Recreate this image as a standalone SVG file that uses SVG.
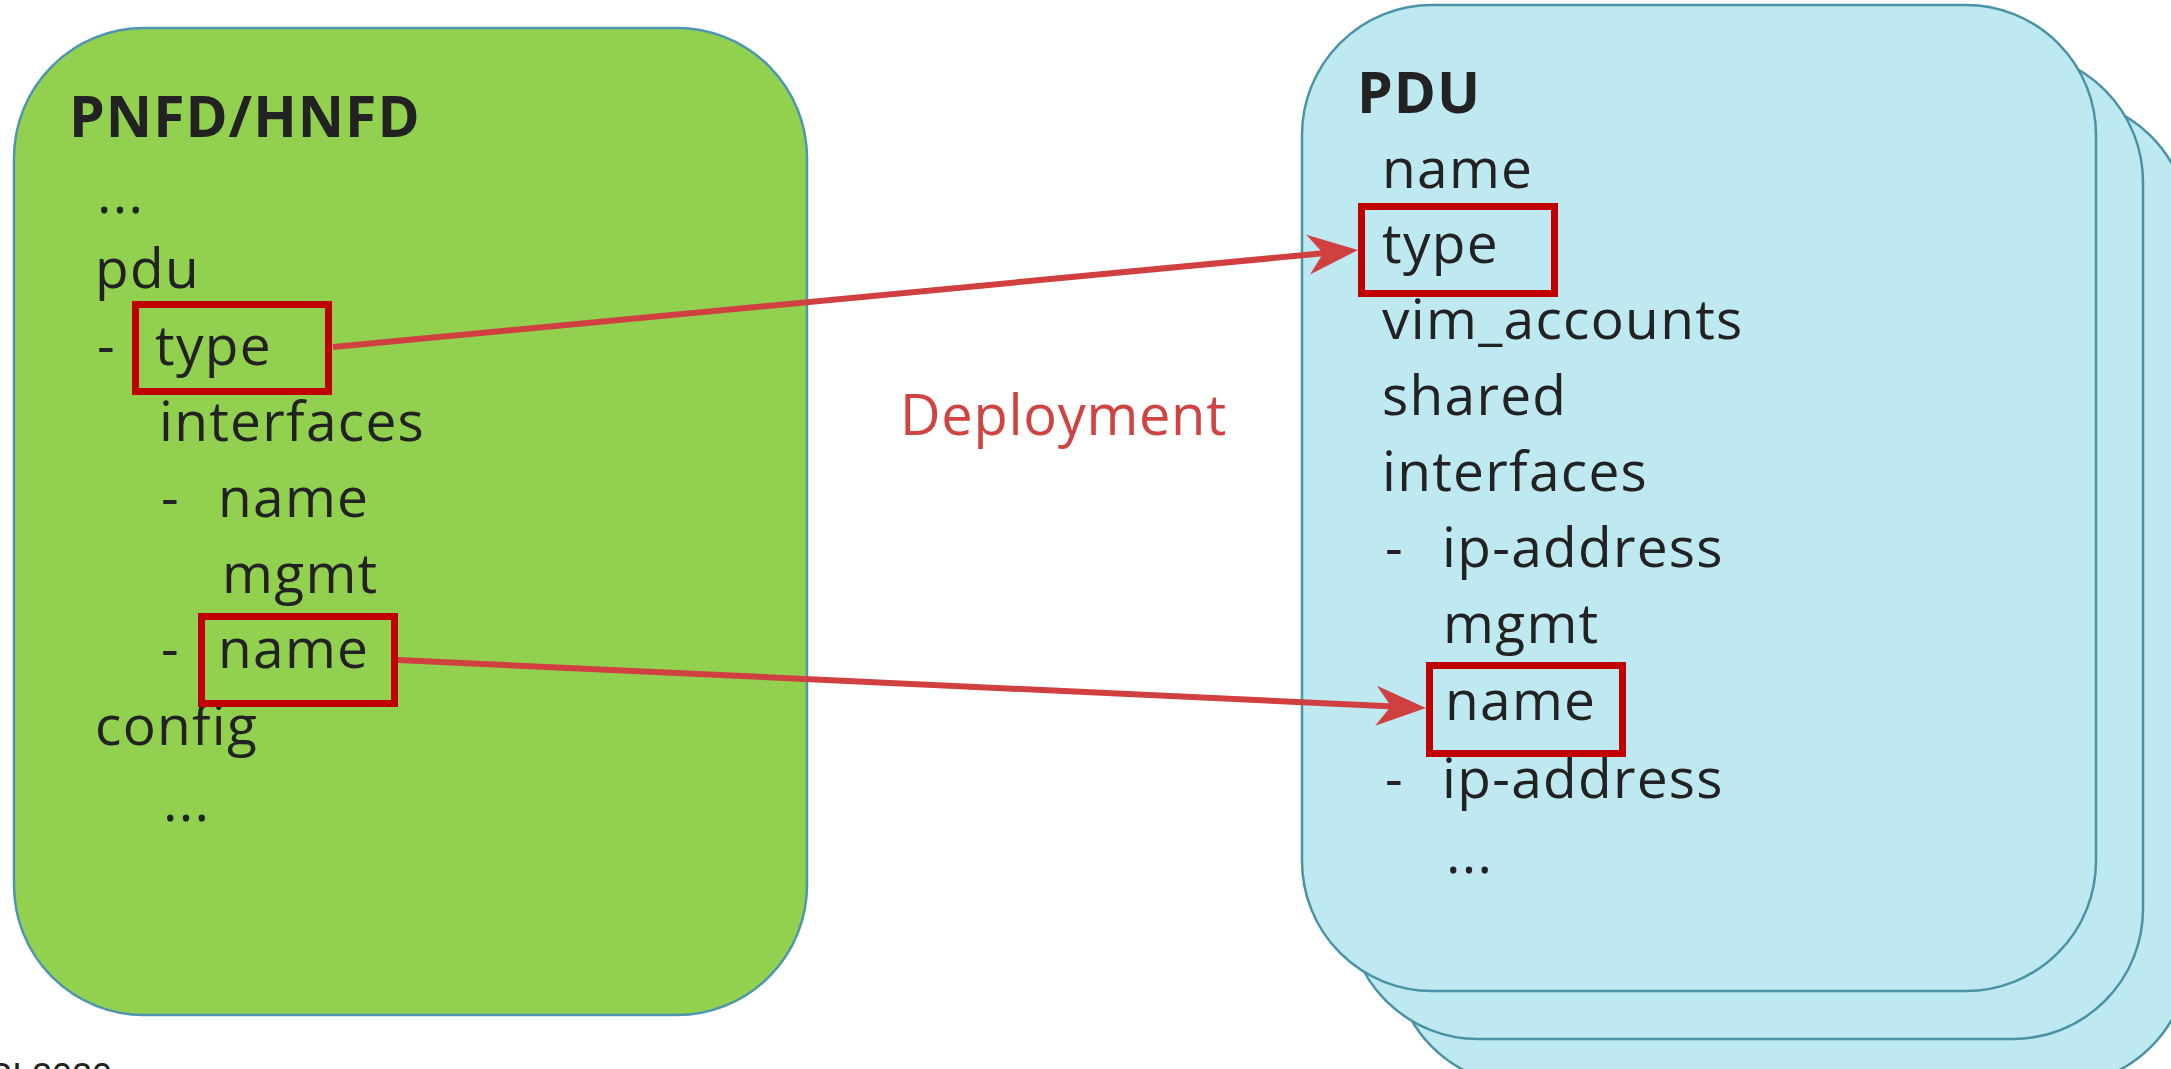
<svg xmlns="http://www.w3.org/2000/svg" width="2171" height="1069" viewBox="0 0 2171 1069">
  <style>
    .txt { font-family: "Open Sans", "Noto Sans", "Liberation Sans", sans-serif; font-size: 55px; letter-spacing: 1.3px; fill: #222222; }
    .title { font-family: "Open Sans", "Noto Sans", "Liberation Sans", sans-serif; font-size: 57px; letter-spacing: 1px; font-weight: bold; fill: #222222; }
    .label { font-family: "Open Sans", "Noto Sans", "Liberation Sans", sans-serif; font-size: 56px; letter-spacing: 0.7px; fill: #D04343; }
    .foot { font-family: "Liberation Sans", Arial, sans-serif; font-size: 36px; fill: #222222; }
    .card { fill: #BFE9F0; stroke: #4A93A5; stroke-width: 2.5; }
    .green { fill: #92D050; stroke: #4E95B0; stroke-width: 2.5; }
    .hl { fill: none; stroke: #C00000; stroke-width: 7; }
    .conn { fill: none; stroke: #D04040; stroke-width: 6; marker-end: url(#ah); }
  </style>
  <defs>
    <marker id="ah" markerUnits="userSpaceOnUse" markerWidth="52" markerHeight="42" viewBox="0 0 52 42" refX="20" refY="21" orient="auto">
      <path d="M52,21 L2,1 L17,21 L2,41 Z" fill="#D04040"/>
    </marker>
  </defs>

  <!-- descriptor block (PNFD/HNFD) -->
  <g id="pnfd">
    <rect class="green" x="14" y="28" width="793" height="987" rx="130" ry="130"/>
    <text class="title" x="69" y="137">PNFD/HNFD</text>
    <text class="txt" x="97" y="213">...</text>
    <text class="txt" x="95" y="288">pdu</text>
    <text class="txt" x="97" y="365">-</text>
    <text class="txt" x="155" y="365">type</text>
    <text class="txt" x="159" y="441">interfaces</text>
    <text class="txt" x="161" y="517">-</text>
    <text class="txt" x="218" y="517">name</text>
    <text class="txt" x="222" y="593">mgmt</text>
    <text class="txt" x="161" y="668">-</text>
    <text class="txt" x="218" y="668">name</text>
    <text class="txt" x="95" y="745">config</text>
    <text class="txt" x="163" y="821">...</text>
    <rect class="hl" x="135.5" y="304.5" width="193" height="87"/>
    <rect class="hl" x="201.5" y="616.5" width="193" height="87"/>
  </g>

  <!-- stacked PDU records -->
  <g id="pdu">
    <rect class="card" x="1394" y="98" width="795" height="987" rx="130" ry="130"/>
    <rect class="card" x="1348" y="52" width="795" height="987" rx="130" ry="130"/>
    <rect class="card" x="1302" y="5" width="794" height="986" rx="130" ry="130"/>
    <text class="title" x="1357" y="113">PDU</text>
    <text class="txt" x="1382" y="188">name</text>
    <text class="txt" x="1382" y="263">type</text>
    <text class="txt" x="1382" y="339">vim_accounts</text>
    <text class="txt" x="1382" y="415">shared</text>
    <text class="txt" x="1382" y="491">interfaces</text>
    <text class="txt" x="1385" y="567">-</text>
    <text class="txt" x="1442" y="567">ip-address</text>
    <text class="txt" x="1443" y="643">mgmt</text>
    <text class="txt" x="1445" y="720">name</text>
    <text class="txt" x="1385" y="798">-</text>
    <text class="txt" x="1442" y="798">ip-address</text>
    <text class="txt" x="1446" y="873">...</text>
    <rect class="hl" x="1361.5" y="206.5" width="193" height="87"/>
    <rect class="hl" x="1429.5" y="665.5" width="193" height="88"/>
  </g>

  <!-- mapping connectors -->
  <g id="connectors">
    <line class="conn" x1="333" y1="347" x2="1326.1" y2="253"/>
    <line class="conn" x1="398" y1="660" x2="1394" y2="706.5"/>
    <text class="label" x="900" y="435">Deployment</text>
  </g>

  <text class="foot" x="112" y="1089" text-anchor="end">© ETSI 2020</text>
</svg>
